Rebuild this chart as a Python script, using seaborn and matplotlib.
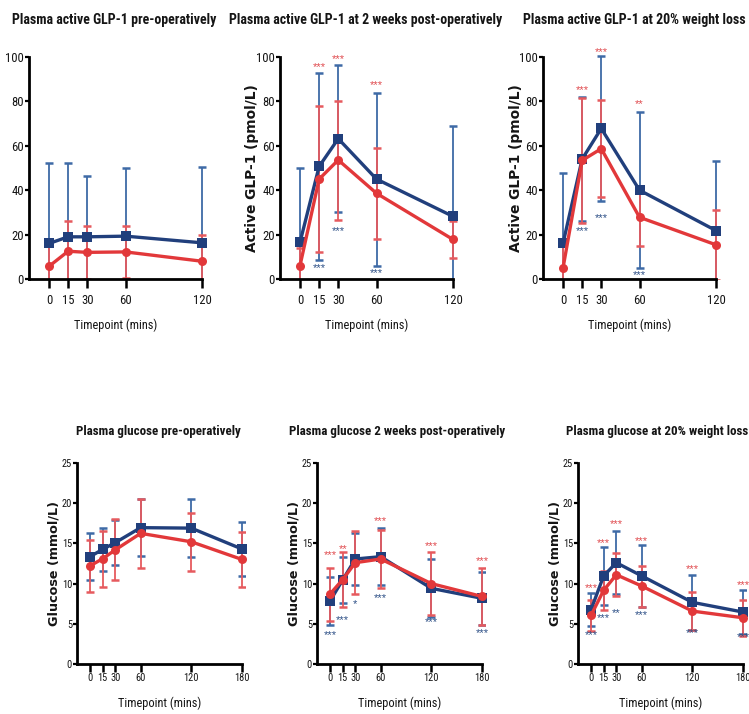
import matplotlib
matplotlib.use("Agg")
import matplotlib.pyplot as plt
import seaborn as sns
import pandas as pd
from matplotlib import font_manager as fm

# ---------------- data ----------------
time_glp = [0, 15, 30, 60, 120]
time_glu = [0, 15, 30, 60, 120, 180]

# GLP-1 pre-operatively
glp_pre_blue = [16, 19, 19, 19.3, 16.3]
glp_pre_blue_sd = [36.4, 33.4, 27.5, 30.7, 34.3]
glp_pre_red = [5.7, 12.5, 12, 12.2, 8]
glp_pre_red_sd = [10, 13.5, 12, 11.8, 12]

# GLP-1 2 weeks post-op
glp_2w_blue = [16.5, 50.7, 63.2, 45, 28.2]
glp_2w_blue_sd = [33.5, 42.3, 33.1, 39, 40.8]
glp_2w_red = [6, 45, 53.6, 38.6, 17.8]
glp_2w_red_sd = [8, 33, 26.8, 20.4, 8.4]

# GLP-1 at 20% weight loss
glp_20_blue = [16, 54, 67.8, 40, 21.8]
glp_20_blue_sd = [31.8, 27.8, 32.6, 35, 31.2]
glp_20_red = [4.9, 53.4, 58.7, 27.8, 15.4]
glp_20_red_sd = [10, 28.1, 21.9, 12.8, 15.9]

# Glucose pre-operatively
glu_pre_blue = [13.35, 14.26, 15.1, 16.96, 16.9, 14.3]
glu_pre_blue_sd = [2.9, 2.7, 2.8, 3.54, 3.6, 3.4]
glu_pre_red = [12.2, 13.1, 14.2, 16.25, 15.2, 13.0]
glu_pre_red_sd = [3.2, 3.5, 3.8, 4.3, 3.6, 3.45]

# Glucose 2 weeks post-op
glu_2w_blue = [7.84, 10.45, 13.06, 13.35, 9.41, 8.17]
glu_2w_blue_sd = [2.96, 2.9, 3.2, 3.55, 3.6, 3.3]
glu_2w_red = [8.7, 10.5, 12.6, 13.06, 10.0, 8.4]
glu_2w_red_sd = [3.3, 3.4, 3.9, 3.66, 3.95, 3.6]

# Glucose at 20% weight loss
glu_20_blue = [6.75, 10.96, 12.6, 10.96, 7.67, 6.46]
glu_20_blue_sd = [2.08, 3.6, 3.9, 3.84, 3.45, 2.7]
glu_20_red = [6.04, 9.17, 11.1, 9.7, 6.58, 5.75]
glu_20_red_sd = [1.96, 2.42, 2.65, 2.55, 2.38, 2.25]

# significance marks (text, value level)
glp_2w_red_sig = ["", "***", "***", "***", ""]
glp_2w_red_sig_y = [0, 96, 99.5, 88, 0]
glp_2w_blue_sig = ["", "***", "***", "***", ""]
glp_2w_blue_sig_y = [0, 5.6, 22, 3.4, 0]

glp_20_red_sig = ["", "***", "***", "**", ""]
glp_20_red_sig_y = [0, 85.5, 102.7, 79.5, 0]
glp_20_blue_sig = ["", "***", "***", "***", ""]
glp_20_blue_sig_y = [0, 22, 28, 2.4, 0]

glu_2w_red_sig = ["***", "**", "", "***", "***", "***"]
glu_2w_red_sig_y = [13.7, 14.5, 0, 17.9, 14.8, 12.9]
glu_2w_blue_sig = ["***", "***", "*", "***", "***", "***"]
glu_2w_blue_sig_y = [3.7, 5.6, 7.55, 8.37, 5.3, 4.0]

glu_20_red_sig = ["***", "***", "***", "***", "***", "***"]
glu_20_red_sig_y = [9.6, 15.2, 17.5, 15.4, 11.9, 10.0]
glu_20_blue_sig = ["***", "***", "**", "***", "***", "***"]
glu_20_blue_sig_y = [3.8, 5.9, 6.46, 6.25, 3.96, 3.5]

titles = ["Plasma active GLP-1 pre-operatively",
          "Plasma active GLP-1 at 2 weeks post-operatively",
          "Plasma active GLP-1 at 20% weight loss",
          "Plasma glucose pre-operatively",
          "Plasma glucose 2 weeks post-operatively",
          "Plasma glucose at 20% weight loss"]
ylabels = ["", "Active GLP-1 (pmol/L)", "Active GLP-1 (pmol/L)",
           "Glucose (mmol/L)", "Glucose (mmol/L)", "Glucose (mmol/L)"]
xlabel = "Timepoint (mins)"

# ---------------- style ----------------
sns.set_theme(style="ticks")
plt.rcParams["font.family"] = ["Liberation Sans", "DejaVu Sans"]


def find_narrow(bold):
    pref = ["Liberation Sans Narrow", "Arial Narrow", "Roboto Condensed",
            "Open Sans Condensed", "Noto Sans Condensed", "DejaVu Sans"]
    cands = []
    for f in fm.fontManager.ttflist:
        nm = f.name
        cond = ("Narrow" in nm or "Condensed" in nm or
                str(f.stretch) in ("condensed", "semi-condensed", "extra-condensed",
                                   "ultra-condensed"))
        if not cond or "Mono" in nm or "Serif" in nm:
            continue
        if "Condensed" in f.fname or "Narrow" in f.fname or "Condensed" in nm or "Narrow" in nm:
            try:
                w = int(f.weight)
            except Exception:
                w = 700 if "bold" in str(f.weight).lower() else 400
            if "Italic" in f.fname or "Oblique" in f.fname or str(f.style) != "normal":
                continue
            rank = pref.index(nm) if nm in pref else len(pref)
            wdiff = abs(w - (700 if bold else 400))
            cands.append((rank, wdiff, f.fname))
    if cands:
        cands.sort()
        return fm.FontProperties(fname=cands[0][2])
    return fm.FontProperties(family=["Liberation Sans", "DejaVu Sans"],
                             weight="bold" if bold else "normal")


FP_REG = find_narrow(False)
FP_BOLD = find_narrow(True)
FP_WIDE = fm.FontProperties(family="DejaVu Sans", weight="bold")

BLUE = "#213f7c"
RED = "#e2383a"
BLUE_ERR = "#3e6aa6"
RED_ERR = "#e65a5e"
TXT = "#151515"

W, H = 749, 714
fig = plt.figure(figsize=(W / 100, H / 100), dpi=100)
renderer = fig.canvas.get_renderer()


def fitted_size(s, fp, target_w):
    p = fp.copy()
    p.set_size(10)
    t = fig.text(0, 0, s, fontproperties=p)
    w = t.get_window_extent(renderer).width
    t.remove()
    return 10 * target_w / w


def with_size(fp, size):
    p = fp.copy()
    p.set_size(size)
    return p


TOP_TICK_SIZE = fitted_size("120", FP_REG, 16.5) * 1.12
BOT_TICK_SIZE = fitted_size("120", FP_REG, 14.3) * 1.06
XLAB_SIZE = fitted_size(xlabel, FP_REG, 72) * 1.15
TOP_TITLE_SIZE = fitted_size(titles[1], FP_BOLD, 248) * 1.1
BOT_TITLE_SIZE = fitted_size(titles[3], FP_BOLD, 157) * 1.05
GLP_YLAB_SIZE = fitted_size(ylabels[1], FP_WIDE, 183) * 0.92
GLU_YLAB_SIZE = fitted_size(ylabels[3], FP_WIDE, 132) * 0.95
SIG_SIZE = 8


def make_axes(x0, y0, xs, ys, xlim, ylim):
    left = x0 + xlim[0] * xs
    right = x0 + xlim[1] * xs
    bottom = y0
    top = y0 - ylim[1] * ys
    ax = fig.add_axes([left / W, 1 - bottom / H, (right - left) / W, (bottom - top) / H])
    return ax, (left, right, top, bottom)


def panel(ax, box, times, bm, bsd, rm, rsd, xlim, ylim, yticks, ymax_spine,
          title, tpos, tsize, ylab, ysize, ylab_dx, xlab_y, xtick_len, xtick_pad, tick_size,
          bsig=None, bsig_y=None, rsig=None, rsig_y=None):
    left, right, top, bottom = box
    ax.errorbar(times, bm, yerr=bsd, fmt="none", ecolor=BLUE_ERR, elinewidth=1.3,
                capsize=3, capthick=1.8, zorder=2)
    ax.errorbar(times, rm, yerr=rsd, fmt="none", ecolor=RED_ERR, elinewidth=1.3,
                capsize=3, capthick=1.8, zorder=2)
    df_b = pd.DataFrame({"t": times, "v": bm})
    df_r = pd.DataFrame({"t": times, "v": rm})
    sns.lineplot(data=df_b, x="t", y="v", ax=ax, color=BLUE, lw=2.4, marker="s",
                 markersize=6.5, markeredgewidth=0, zorder=3, clip_on=False)
    sns.lineplot(data=df_r, x="t", y="v", ax=ax, color=RED, lw=2.4, marker="o",
                 markersize=6.5, markeredgewidth=0, zorder=4, clip_on=False)
    ax.set_xlim(*xlim)
    ax.set_ylim(*ylim)
    tfp = with_size(FP_REG, tick_size)
    ax.set_xticks(times)
    ax.set_xticklabels([str(t) for t in times], fontproperties=tfp, color=TXT)
    ax.set_yticks(yticks)
    ax.set_yticklabels([str(y) for y in yticks], fontproperties=tfp, color=TXT)
    sns.despine(ax=ax)
    ax.spines["bottom"].set_bounds(xlim[0], times[-1])
    ax.spines["left"].set_bounds(0, ymax_spine)
    for s in ("bottom", "left"):
        ax.spines[s].set_linewidth(2.0)
        ax.spines[s].set_color("black")
    ax.tick_params(axis="x", direction="out", length=xtick_len, width=1.8, color="black",
                   pad=xtick_pad)
    ax.tick_params(axis="y", direction="out", length=3, width=1.6, color="black", pad=0.5)
    ax.patch.set_alpha(0)
    w = right - left
    h = bottom - top
    xmid = ((xlim[0] + times[-1]) / 2 - xlim[0]) / (xlim[1] - xlim[0])
    ax.set_xlabel(xlabel, fontproperties=with_size(FP_REG, XLAB_SIZE), color=TXT,
                  va="center")
    ax.xaxis.set_label_coords(xmid, (bottom - xlab_y) / h)
    if ylab:
        ax.set_ylabel(ylab, fontproperties=with_size(FP_WIDE, ysize), color=TXT,
                      va="center")
        ax.yaxis.set_label_coords(ylab_dx / w, 0.5 * (ymax_spine / ylim[1]))
    else:
        ax.set_ylabel("")
    tx, ty, ha = tpos
    fig.text(tx / W, 1 - ty / H, title, ha=ha, va="center",
             fontproperties=with_size(FP_BOLD, tsize), color=TXT)
    if bsig:
        for t, s, yv in zip(times, bsig, bsig_y):
            if s:
                ax.annotate(s, (t, yv), xytext=(0, -3), textcoords="offset points",
                            ha="center", va="baseline", fontsize=SIG_SIZE,
                            color="#2d4f86", annotation_clip=False)
    if rsig:
        for t, s, yv in zip(times, rsig, rsig_y):
            if s:
                ax.annotate(s, (t, yv), xytext=(0, -3), textcoords="offset points",
                            ha="center", va="baseline", fontsize=SIG_SIZE,
                            color="#e04a4e", annotation_clip=False)


# top row geometry
TXS, TYS = 1.275, 2.22
TXL, TYL = (-16, 124), (0, 104)
top_y0 = 279
# bottom row geometry
BXS, BYS = 0.8444, 8.04
BXL, BYL = (-15.5, 184), (0, 26)
bot_y0 = 664

glp_ticks = [0, 20, 40, 60, 80, 100]
glu_ticks = [0, 5, 10, 15, 20, 25]

ax1, b1 = make_axes(49, top_y0, TXS, TYS, TXL, TYL)
panel(ax1, b1, time_glp, glp_pre_blue, glp_pre_blue_sd, glp_pre_red, glp_pre_red_sd,
      TXL, TYL, glp_ticks, 100, titles[0], (114, 20, "center"), TOP_TITLE_SIZE,
      ylabels[0], GLP_YLAB_SIZE, -27, 325, 6.5, 4, TOP_TICK_SIZE)

ax2, b2 = make_axes(300, top_y0, TXS, TYS, TXL, TYL)
panel(ax2, b2, time_glp, glp_2w_blue, glp_2w_blue_sd, glp_2w_red, glp_2w_red_sd,
      TXL, TYL, glp_ticks, 100, titles[1], (366, 20, "center"), TOP_TITLE_SIZE,
      ylabels[1], GLP_YLAB_SIZE, -28, 325, 6.5, 4, TOP_TICK_SIZE,
      glp_2w_blue_sig, glp_2w_blue_sig_y, glp_2w_red_sig, glp_2w_red_sig_y)

ax3, b3 = make_axes(563, top_y0, TXS, TYS, TXL, TYL)
panel(ax3, b3, time_glp, glp_20_blue, glp_20_blue_sd, glp_20_red, glp_20_red_sd,
      TXL, TYL, glp_ticks, 100, titles[2], (523, 20, "left"), TOP_TITLE_SIZE,
      ylabels[2], GLP_YLAB_SIZE, -27, 325, 6.5, 4, TOP_TICK_SIZE,
      glp_20_blue_sig, glp_20_blue_sig_y, glp_20_red_sig, glp_20_red_sig_y)

ax4, b4 = make_axes(90, bot_y0, BXS, BYS, BXL, BYL)
panel(ax4, b4, time_glu, glu_pre_blue, glu_pre_blue_sd, glu_pre_red, glu_pre_red_sd,
      BXL, BYL, glu_ticks, 25, titles[3], (158, 432, "center"), BOT_TITLE_SIZE,
      ylabels[3], GLU_YLAB_SIZE, -23, 703, 5.8, 1, BOT_TICK_SIZE)

ax5, b5 = make_axes(330, bot_y0, BXS, BYS, BXL, BYL)
panel(ax5, b5, time_glu, glu_2w_blue, glu_2w_blue_sd, glu_2w_red, glu_2w_red_sd,
      BXL, BYL, glu_ticks, 25, titles[4], (397, 432, "center"), BOT_TITLE_SIZE,
      ylabels[4], GLU_YLAB_SIZE, -23, 703, 5.8, 1, BOT_TICK_SIZE,
      glu_2w_blue_sig, glu_2w_blue_sig_y, glu_2w_red_sig, glu_2w_red_sig_y)

ax6, b6 = make_axes(591, bot_y0, BXS, BYS, BXL, BYL)
panel(ax6, b6, time_glu, glu_20_blue, glu_20_blue_sd, glu_20_red, glu_20_red_sd,
      BXL, BYL, glu_ticks, 25, titles[5], (748, 432, "right"), BOT_TITLE_SIZE,
      ylabels[5], GLU_YLAB_SIZE, -23, 703, 5.8, 1, BOT_TICK_SIZE,
      glu_20_blue_sig, glu_20_blue_sig_y, glu_20_red_sig, glu_20_red_sig_y)

fig.savefig("out.png", dpi=100)
